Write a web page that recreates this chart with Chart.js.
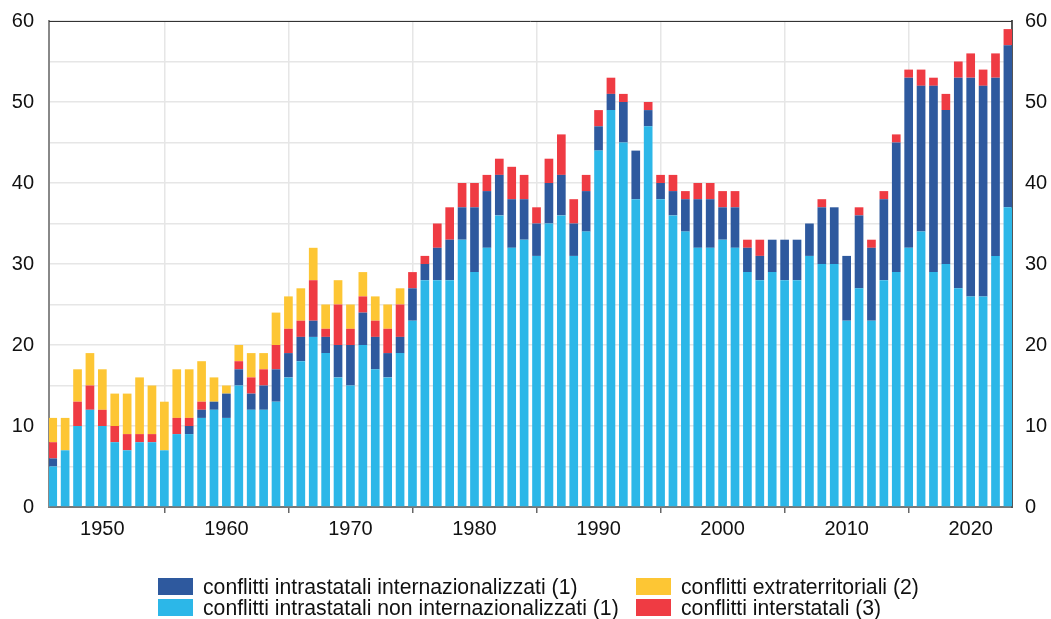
<!DOCTYPE html>
<html>
<head>
<meta charset="utf-8">
<script src="https://cdn.jsdelivr.net/npm/chart.js@4"></script>
<style>
  html, body { margin: 0; padding: 0; background: #fff; }
  #wrap { position: relative; width: 1051px; height: 619px; }
  #legend {
    position: absolute; left: 158px; top: 577px;
    display: grid; grid-template-columns: 478px auto; row-gap: 2px;
    font-family: "Liberation Sans", Arial, sans-serif; font-size: 21.2px; color: #111;
  }
  .item { display: flex; align-items: center; height: 19px; line-height: 19px; white-space: nowrap; }
  .sw { width: 35px; height: 17px; margin-right: 10px; flex: none; }
</style>
</head>
<body>
<div id="wrap">
  <canvas id="chart" width="1051" height="619"></canvas>
  <div id="legend"></div>
</div>
<script>
const years = [1946, 1947, 1948, 1949, 1950, 1951, 1952, 1953, 1954, 1955,
  1956, 1957, 1958, 1959, 1960, 1961, 1962, 1963, 1964, 1965,
  1966, 1967, 1968, 1969, 1970, 1971, 1972, 1973, 1974, 1975,
  1976, 1977, 1978, 1979, 1980, 1981, 1982, 1983, 1984, 1985,
  1986, 1987, 1988, 1989, 1990, 1991, 1992, 1993, 1994, 1995,
  1996, 1997, 1998, 1999, 2000, 2001, 2002, 2003, 2004, 2005,
  2006, 2007, 2008, 2009, 2010, 2011, 2012, 2013, 2014, 2015,
  2016, 2017, 2018, 2019, 2020, 2021, 2022, 2023];

// conflitti intrastatali non internazionalizzati
const nonIntl = [5, 7, 10, 12, 10, 8, 7, 8, 8, 7,
  9, 9, 11, 12, 11, 15, 12, 12, 13, 16,
  18, 21, 19, 16, 15, 20, 17, 16, 19, 23,
  28, 28, 28, 33, 29, 32, 36, 32, 33, 31,
  35, 36, 31, 34, 44, 49, 45, 38, 47, 38,
  36, 34, 32, 32, 33, 32, 29, 28, 29, 28,
  28, 31, 30, 30, 23, 27, 23, 28, 29, 32,
  34, 29, 30, 27, 26, 26, 31, 37];

// conflitti intrastatali internazionalizzati
const intl = [1, 0, 0, 0, 0, 0, 0, 0, 0, 0,
  0, 1, 1, 1, 3, 2, 2, 3, 4, 3,
  3, 2, 2, 4, 5, 4, 4, 3, 2, 4,
  2, 4, 5, 4, 8, 7, 5, 6, 5, 4,
  5, 5, 4, 5, 3, 2, 5, 6, 2, 2,
  3, 4, 6, 6, 4, 5, 3, 3, 4, 5,
  5, 4, 7, 7, 8, 9, 9, 10, 16, 21,
  18, 23, 19, 26, 27, 26, 22, 20];

// conflitti interstatali
const inter = [2, 0, 3, 3, 2, 2, 2, 1, 1, 0,
  2, 1, 1, 0, 0, 1, 2, 2, 3, 3,
  2, 5, 1, 5, 2, 2, 2, 3, 4, 2,
  1, 3, 4, 3, 3, 2, 2, 4, 3, 2,
  3, 5, 3, 2, 2, 2, 1, 0, 1, 1,
  2, 1, 2, 2, 2, 2, 1, 2, 0, 0,
  0, 0, 1, 0, 0, 1, 1, 1, 1, 1,
  2, 1, 2, 2, 3, 2, 3, 2];

// conflitti extraterritoriali
const extra = [3, 4, 4, 4, 5, 4, 5, 7, 6, 6,
  6, 6, 5, 3, 1, 2, 3, 2, 4, 4,
  4, 4, 3, 3, 3, 3, 3, 3, 2, 0,
  0, 0, 0, 0, 0, 0, 0, 0, 0, 0,
  0, 0, 0, 0, 0, 0, 0, 0, 0, 0,
  0, 0, 0, 0, 0, 0, 0, 0, 0, 0,
  0, 0, 0, 0, 0, 0, 0, 0, 0, 0,
  0, 0, 0, 0, 0, 0, 0, 0];

const labels = {
  intl: 'conflitti intrastatali internazionalizzati (1)',
  extra: 'conflitti extraterritoriali (2)',
  nonIntl: 'conflitti intrastatali non internazionalizzati (1)',
  inter: 'conflitti interstatali (3)'
};
const colors = {
  intl: '#2e599e',
  extra: '#fdc634',
  nonIntl: '#2cb7e8',
  inter: '#ef3b43'
};

function pts(arr) {
  return arr.map((v, i) => ({ x: years[i], y: v }));
}

function mk(key, arr) {
  return {
    label: labels[key],
    data: pts(arr),
    backgroundColor: colors[key],
    borderWidth: 0,
    categoryPercentage: 1,
    barPercentage: 0.7,
    stack: 's'
  };
}

const FONT = { family: '"Liberation Sans", Arial, sans-serif', size: 20 };

// thin line on top of the plot area
const frame = {
  id: 'frame',
  afterDatasetsDraw(chart) {
    const a = chart.chartArea;
    const c = chart.ctx;
    c.save();
    c.strokeStyle = '#333';
    c.lineWidth = 1;
    c.beginPath();
    c.moveTo(a.left, a.top + 0.5);
    c.lineTo(a.right, a.top + 0.5);
    c.stroke();
    c.restore();
  }
};

const ctx = document.getElementById('chart').getContext('2d');

// invisible tick marks are used as the gap between labels and axis,
// ticks.padding would also push the plot top down
const chart = new Chart(ctx, {
  type: 'bar',
  data: {
    datasets: [
      mk('nonIntl', nonIntl),
      mk('intl', intl),
      mk('inter', inter),
      mk('extra', extra)
    ]
  },
  options: {
    responsive: false,
    animation: false,
    layout: { padding: { top: 21, bottom: 72, left: 0, right: 0 } },
    plugins: {
      legend: { display: false },
      tooltip: { enabled: false }
    },
    scales: {
      x: {
        type: 'linear',
        stacked: true,
        min: 1945.7,
        max: 2023.33,
        offset: false,
        afterFit(s) { s.height = 40; },
        ticks: {
          stepSize: 10,
          includeBounds: false,
          autoSkip: false,
          maxRotation: 0,
          padding: 4,
          color: '#111',
          font: FONT,
          callback: v => String(v)
        },
        grid: {
          color: '#e6e6e6',
          lineWidth: 1.5,
          tickColor: '#666',
          tickLength: 6
        },
        border: { color: '#777', width: 2 }
      },
      y: {
        stacked: true,
        position: 'left',
        min: 0,
        max: 60,
        afterFit(s) { s.width = 49; },
        ticks: {
          stepSize: 5,
          padding: 0,
          color: '#111',
          font: FONT,
          callback: v => (v % 10 === 0 ? v : '')
        },
        grid: {
          color: '#e6e6e6',
          lineWidth: 1.5,
          tickLength: 15,
          tickColor: 'rgba(0,0,0,0)'
        },
        border: { color: '#888', width: 2 }
      },
      y2: {
        position: 'right',
        min: 0,
        max: 60,
        afterFit(s) { s.width = 39; },
        ticks: {
          stepSize: 10,
          padding: 0,
          color: '#111',
          font: FONT
        },
        grid: {
          drawOnChartArea: false,
          tickLength: 13,
          tickColor: 'rgba(0,0,0,0)'
        },
        border: { color: '#555', width: 2 }
      }
    }
  },
  plugins: [frame]
});

// legend, laid out in two columns like the original
const order = ['intl', 'extra', 'nonIntl', 'inter'];
const legendEl = document.getElementById('legend');
order.forEach(k => {
  const item = document.createElement('div');
  item.className = 'item';
  const sw = document.createElement('span');
  sw.className = 'sw';
  sw.style.background = colors[k];
  const t = document.createElement('span');
  t.textContent = labels[k];
  item.appendChild(sw);
  item.appendChild(t);
  legendEl.appendChild(item);
});
</script>
</body>
</html>
